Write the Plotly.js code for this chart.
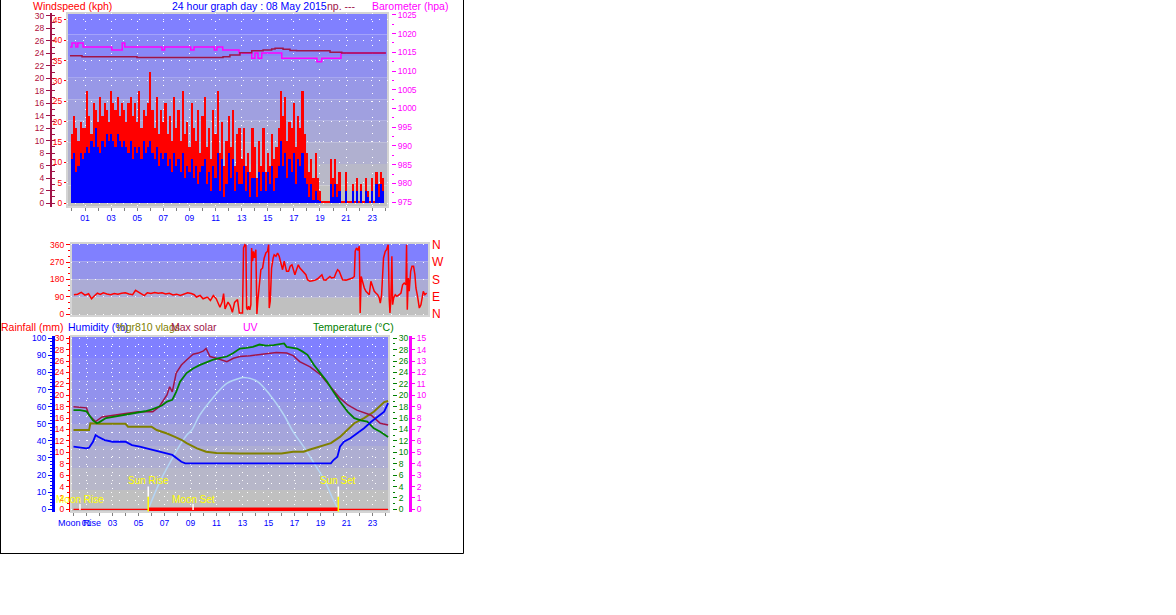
<!DOCTYPE html>
<html><head><meta charset="utf-8">
<script src="https://cdn.plot.ly/plotly-3.0.1.min.js"></script>
<style>html,body{margin:0;padding:0;background:#fff;}#chart{width:1176px;height:615px;}</style>
</head><body><div id="chart"></div>
<script>
const W = 1176, H = 615;

// ---------- Panel 1: wind speed (10-minute bars) ----------
const gustKph = [
 11,14,12,10,13,12,  12,18,14,11,16,15,  13,17,14,16,15,13,  18,16,15,17,14,16,
 15,13,16,17,14,16,  13,18,12,15,14,16,  21,15,12,17,11,15,  13,16,11,14,10,17,
 12,15,10,18,11,13,  9,16,12,10,15,8,    14,17,9,12,7,15,    11,18,8,13,6,10,
 14,9,15,6,11,12,    7,12,6,8,5,12,      9,4,10,6,12,5,      8,6,11,7,9,12,
 18,14,17,10,13,12,  16,9,14,12,18,11,   8,5,7,4,8,4,        2,0.3,0.3,0.3,0.3,7,
 4,7,3,5,0.3,0.3,    5,0.3,0.3,3,0.3,4,  0.3,3,0.3,4,2,0.3,  4,0.3,5,3,5,4];
const avgKph = [
 7,8,5,6,8,7,        8,9,8,10,9,12,      9,8,10,9,11,10,     11,10,9,11,10,9,
 10,9,8,10,7,9,      8,9,7,10,8,9,       10,8,7,9,6,8,       7,8,6,7,5,8,
 6,7,5,8,4,6,        5,7,4,6,3,5,        6,7,3,5,2,6,        4,8,2,7,1,3,
 8,4,7,2,5,3,        3,6,2,5,1,4,        4,1,5,2,5,2,        5,3,6,2,4,6,
 10,6,8,4,7,5,       8,3,7,6,8,4,        3,1,3,0.5,2,0.5,    0.3,0,0,0,0,3,
 1,3,1,2,0,0,        2,0,0,2,0,2,        0,2,0,2,1,0,        2,0,3,1,3,2];
const barHours = gustKph.map((_, i) => i / 6);

// Barometer (hPa)
const baroHours = [-0.15,0.0,0.3,0.45,0.85,3.05,3.85,4.05,6.9,7.1,9.1,9.35,10.9,11.1,11.55,12.8,13.77,14.02,14.25,14.54,16.07,18.77,19.13,20.61,24.05];
const baroHpa   = [1016.4,1017.5,1016.4,1017.5,1016.4,1015.6,1017.5,1016.4,1015.6,1016.4,1015.6,1016.4,1015.6,1016.4,1015.6,1014.8,1013.4,1014.8,1013.4,1014.8,1013.4,1012.5,1013.4,1014.8,1014.8];
const baro2Hours = [-0.15,0.77,4.98,11.57,12.1,12.87,13.77,14.64,15.3,15.56,16.17,16.7,17.2,19.77,20.67,24.05];
const baro2Hpa   = [1014.1,1013.8,1013.6,1013.8,1014.3,1014.9,1015.4,1015.6,1015.9,1016.1,1015.8,1015.5,1015.4,1015.0,1014.8,1014.8];

// ---------- Panel 2: wind direction ----------
const dirHours = [0,0.25,0.5,0.75,1.0,1.2,1.4,1.6,1.8,2.0,2.25,2.5,2.75,3.0,3.25,3.5,3.75,4.0,4.2,4.4,4.6,4.8,5.0,5.25,5.5,5.75,6.0,6.25,6.5,6.75,7.0,7.25,7.5,7.75,8.0,8.2,8.35,8.6,8.8,9.1,9.3,9.5,9.7,9.95,10.1,10.2,10.3,10.5,10.65,10.8,10.95,
 11.04,11.15,11.27,11.49,11.56,11.65,11.72,11.77,11.84,11.90,11.99,12.06,12.11,12.18,12.24,12.31,12.40,12.47,12.54,12.63,12.74,12.86,12.97,13.08,13.20,13.27,13.31,13.38,13.47,13.58,13.65,13.77,13.88,13.99,14.11,14.22,14.33,14.40,14.49,14.63,14.74,14.86,14.95,15.06,15.17,15.29,15.40,15.52,15.63,15.74,15.81,15.92,16.08,16.27,16.45,16.61,16.77,16.90,17.02,17.17,17.33,17.45,17.56,17.74,17.86,17.97,18.08,18.20,18.31,18.54,18.76,18.99,19.11,19.17,19.26,19.36,19.45,19.51,19.58,19.67,19.79,19.90,20.01,20.13,20.24,20.36,20.47,20.58,20.70,20.81,20.88,20.97,21.04,21.10,21.22,21.31,21.38,21.42,21.49,21.54,21.60,21.67,21.72,21.79,21.90,22.01,22.17,22.29,22.40,22.51,22.63,22.67,22.72,22.79,22.85,22.95,23.04,23.15,23.24,23.31,23.42,23.54,23.65,23.72,23.81,23.92,24.04];
const dirDeg = [100,103,112,98,105,79,95,108,102,110,104,100,106,103,108,110,104,100,123,112,105,96,110,106,112,108,110,104,108,99,103,96,105,110,106,100,88,96,79,88,70,96,79,35,62,106,26,62,44,9,60,
 66,75,5,5,343,360,355,31,22,40,22,48,343,274,326,291,334,0,75,152,230,239,291,317,326,360,31,66,239,291,308,300,317,300,256,230,274,248,222,222,248,256,230,204,230,256,239,230,222,213,204,178,170,173,176,183,195,204,178,176,187,195,187,190,213,230,222,195,178,176,182,187,195,326,343,330,352,5,195,161,135,118,109,100,170,144,118,109,100,83,57,100,187,291,326,334,352,360,75,5,75,300,48,83,100,92,100,109,152,161,152,360,22,187,118,222,248,248,204,135,92,31,48,83,118,100,109];
const dirLabels = ['N','E','S','W','N'];

// ---------- Panel 3 ----------
const tempHours = [0,0.5,1.0,1.2,1.5,1.8,2.0,2.5,3.0,3.5,4.0,4.5,5.0,5.5,6.0,6.4,6.8,7.2,7.6,7.9,8.2,8.7,9.2,9.7,10.2,10.7,11.2,11.8,12.3,12.8,13.3,13.8,14.3,14.8,15.4,15.8,16.2,16.4,16.8,17.2,17.6,18.0,18.5,19.0,19.5,20.0,20.5,21.1,21.6,22.1,22.6,23.1,23.6,24.2];
const tempC = [17.4,17.4,17.2,16.6,15.6,15.1,15.3,16.0,16.2,16.4,16.5,16.7,17.0,17.2,17.5,17.8,18.2,18.9,19.2,20.6,22.4,23.9,24.7,25.3,25.8,26.2,26.5,26.8,27.4,28.2,28.3,28.5,28.9,28.7,28.8,29.0,29.1,28.5,28.4,28.2,27.7,27.1,25.3,23.9,22.4,20.6,18.9,17.1,16.0,15.6,15.4,14.2,13.6,12.7];
const maxSolarHours = [0,0.5,1.0,1.2,1.7,2.2,3.0,4.0,5.0,6.1,6.6,7.2,7.4,7.6,7.9,8.3,8.7,9.2,9.6,10.0,10.2,10.5,11.0,11.8,12.3,12.8,13.6,14.6,15.6,16.4,16.9,17.4,18.2,19.0,19.8,20.5,21.1,21.8,22.9,23.6,24.2];
const maxSolarVals = [18.0,17.9,17.8,16.5,15.4,16.2,16.5,16.8,17.1,17.1,18.0,20.1,21.5,20.6,23.9,25.3,26.2,27.2,27.4,27.8,28.2,26.8,26.5,25.9,26.5,26.8,26.95,27.2,27.5,27.4,26.95,25.9,25.0,23.6,21.5,19.5,18.3,17.4,16.5,15.1,14.8];
const thgrHours = [0,1.2,1.3,2.0,3.0,4.0,4.2,5.0,6.0,6.4,7.2,7.8,8.3,8.7,9.5,10.2,11.0,12.8,14.0,16.0,16.9,17.7,18.2,19.0,19.8,20.5,20.9,21.6,22.35,23.1,23.9,24.2];
const thgrVals = [13.9,13.9,15.1,15.0,15.0,15.0,14.5,14.5,14.5,13.9,13.3,12.7,12.2,11.6,10.7,10.1,9.9,9.8,9.8,9.8,10.1,10.1,10.5,11.0,11.6,12.7,13.6,15.1,16.0,17.1,18.8,19.0];
const humHours = [0,0.5,1.0,1.2,1.5,1.7,1.9,2.4,3.0,4.0,4.5,5.1,5.6,6.1,6.6,7.2,7.6,8.3,8.6,12.0,16.0,19.8,20.0,20.3,20.5,20.8,21.3,21.8,22.35,22.9,23.4,23.9,24.2];
const humPct = [36.6,36.0,35.6,36.0,39.5,43.4,42.4,40.5,39.5,39.5,37.5,36.6,35.6,34.7,33.7,32.7,31.8,27.8,26.9,26.9,26.9,26.9,28.8,30.7,36.6,39.5,41.5,44.4,47.4,51.2,54.2,57.1,62.0];
const arcHours = [5.75,6.6,7.4,8.2,8.7,9.1,9.7,10.7,11.8,12.8,13.1,14.1,15.1,16.2,16.9,17.7,18.5,19.3,20.0,20.37];
const arcVals = [0,4.6,8.1,11.3,13.0,13.9,16.5,19.5,22.1,23.0,23.1,22.5,20.1,16.5,13.6,11.0,8.1,5.1,1.6,0];
const rainHours = [0, 24.2];
const rainMm = [0, 0];
const eventNames = ['Moon Rise','Sun Rise','Moon Set','Sun Set'];
const eventHours = [0.5, 5.75, 9.2, 20.37];
const eventIsSun = [false, true, false, true];

// ---------- helpers ----------
const fx = p => p / W;
const fy = p => 1 - p / H;
const FONT = 'Arial, "Liberation Sans", sans-serif';
const RED = '#FF0000', BLUE = '#0000FF', MAG = '#FF00FF', GREEN = '#008000', OLIVE = '#808000', MAROON = '#A01448';
const DOT = '1px,7px';

const traces = [];
traces.push({type:'bar', x:barHours, y:gustKph, width:1/6, xaxis:'x', yaxis:'y', marker:{color:RED, line:{width:0}}});
traces.push({type:'bar', x:barHours, y:avgKph, width:1/6, xaxis:'x', yaxis:'y', marker:{color:BLUE, line:{width:0}}});
traces.push({type:'scatter', mode:'lines', x:baroHours, y:baroHpa, xaxis:'x', yaxis:'y3', line:{color:MAG, width:1.5, shape:'hv'}});
traces.push({type:'scatter', mode:'lines', x:baro2Hours, y:baro2Hpa, xaxis:'x', yaxis:'y3', line:{color:MAROON, width:1.5, shape:'hv'}});

traces.push({type:'scatter', mode:'lines', x:dirHours, y:dirDeg, xaxis:'x2', yaxis:'y4', line:{color:RED, width:1.5}});

traces.push({type:'scatter', mode:'lines', x:arcHours, y:arcVals, xaxis:'x3', yaxis:'y6', line:{color:'#B4D4F4', width:1.5, shape:'spline'}});
traces.push({type:'scatter', mode:'lines', x:thgrHours, y:thgrVals, xaxis:'x3', yaxis:'y6', line:{color:OLIVE, width:2}});
traces.push({type:'scatter', mode:'lines', x:humHours, y:humPct, xaxis:'x3', yaxis:'y7', line:{color:BLUE, width:1.8}});
traces.push({type:'scatter', mode:'lines', x:maxSolarHours, y:maxSolarVals, xaxis:'x3', yaxis:'y6', line:{color:MAROON, width:1.5}});
traces.push({type:'scatter', mode:'lines', x:tempHours, y:tempC, xaxis:'x3', yaxis:'y6', line:{color:GREEN, width:1.8}});
traces.push({type:'scatter', mode:'lines', x:rainHours, y:rainMm, xaxis:'x3', yaxis:'y6', line:{color:RED, width:1.2}});
const sunIdx = eventIsSun.map((s,i)=>s?i:-1).filter(i=>i>=0);
traces.push({type:'scatter', mode:'lines', x:[eventHours[sunIdx[0]], eventHours[sunIdx[1]]], y:rainMm, xaxis:'x3', yaxis:'y6', line:{color:RED, width:3.5}});

const annotations = [];
eventNames.forEach((name, i) => {
  const h = eventHours[i];
  if (eventIsSun[i]) {
    traces.push({type:'scatter', mode:'lines', x:[h,h], y:[4.0,2.2], xaxis:'x3', yaxis:'y6', line:{color:'#FFFFFF', width:1.5}});
    traces.push({type:'scatter', mode:'lines', x:[h,h], y:[2.2,-0.4], xaxis:'x3', yaxis:'y6', line:{color:'#FFFF00', width:1.5}});
    annotations.push({text:name, x:h, y:5.0, xref:'x3', yref:'y6', showarrow:false, xanchor:'center', yanchor:'middle', font:{family:FONT, size:10, color:'#FFFF00'}});
  } else {
    traces.push({type:'scatter', mode:'lines', x:[h,h], y:[0.95,-0.1], xaxis:'x3', yaxis:'y6', line:{color:'#FFFFFF', width:1.5}});
    annotations.push({text:name, x:h, y:1.8, xref:'x3', yref:'y6', showarrow:false, xanchor:'center', yanchor:'middle', font:{family:FONT, size:10, color:'#FFFF00'}});
  }
});
annotations.push({text:eventNames[0], x:eventHours[0], y:fy(522.5), xref:'x3', yref:'paper', showarrow:false, xanchor:'center', yanchor:'middle', font:{family:FONT, size:9, color:BLUE}});

function header(text, px, py, color, size) {
  annotations.push({text, x:fx(px), y:fy(py), xref:'paper', yref:'paper', showarrow:false, xanchor:'left', yanchor:'middle', font:{family:FONT, size:size || 10.5, color}});
}
header('Windspeed (kph)', 31, 6, RED);
header('24 hour graph day : 08 May 2015', 170, 6, BLUE);
header('np. ---', 325, 6, MAROON);
header('Barometer (hpa)', 370, 6, MAG);
header('Rainfall (mm)', -1, 327, RED);
header('Humidity (%)', 66, 327, BLUE);
header('thgr810 vlags', 115, 327, OLIVE);
header('Max solar', 169, 327, MAROON);
header('UV', 241, 327, MAG);
header('Temperature (°C)', 311, 327, GREEN);

// background gradient bands and frames
const shapes = [];
function bands(xr, yr, n) {
  for (let i = 0; i < n; i++) {
    const t = i / (n - 1);
    const r = Math.round(128 + 64 * t), g = Math.round(128 + 64 * t), b = Math.round(255 - 63 * t);
    shapes.push({type:'rect', xref:xr + ' domain', yref:yr + ' domain', x0:0, x1:1, y0:1 - (i + 1) / n, y1:1 - i / n,
      fillcolor:`rgb(${r},${g},${b})`, line:{width:0}, layer:'below'});
  }
  shapes.push({type:'rect', xref:xr + ' domain', yref:yr + ' domain', x0:0, x1:1, y0:0, y1:1, line:{color:'#D4D4D4', width:2}, layer:'below'});
}
bands('x', 'y', 9);
bands('x2', 'y4', 4);
bands('x3', 'y6', 8);
[[0.5,0,0.5,553.5],[463.5,0,463.5,553.5],[0,553.5,463.5,553.5]].forEach(([a,b,c,d]) => {
  shapes.push({type:'line', xref:'paper', yref:'paper', x0:fx(a), y0:fy(b), x1:fx(c), y1:fy(d), line:{color:'#000', width:1}});
});

const tf = (color, size) => ({family:FONT, color, size: size || 8.5});
const hourAxis = (domain, range, anchor) => ({
  domain, range, anchor, tick0:1, dtick:2, tickformat:'02d', ticks:'outside', ticklen:3, tickcolor:'#808080',
  tickfont:tf(BLUE, 8.5), minor:{tick0:0, dtick:1, ticks:'outside', ticklen:3, tickcolor:'#808080', showgrid:false},
  showgrid:true, gridcolor:'#FFFFFF', griddash:DOT, gridwidth:1, zeroline:false, showline:false, fixedrange:true
});

const layout = {
  width:W, height:H, autosize:false, margin:{l:0, r:0, t:0, b:0},
  paper_bgcolor:'#FFFFFF', plot_bgcolor:'rgba(0,0,0,0)', showlegend:false, hovermode:false,
  barmode:'overlay', bargap:0, font:{family:FONT, size:8.5},
  xaxis: hourAxis([fx(67), fx(388)], [-0.38, 24.21], 'y'),
  yaxis: {domain:[fy(207), fy(13)], range:[-0.64, 30.48], anchor:'free', position:fx(51), side:'left',
    tick0:0, dtick:2, ticks:'outside', ticklen:4, tickcolor:MAROON, tickfont:tf('#B0103C'),
    minor:{dtick:1, ticks:'inside', ticklen:3, tickcolor:MAROON}, showline:true, linecolor:MAROON, linewidth:2,
    showgrid:false, zeroline:false},
  yaxis2: {overlaying:'y', anchor:'x', side:'left', range:[-0.98, 46.7], tick0:0, dtick:5, ticks:'outside', ticklen:2,
    tickcolor:RED, tickfont:tf(RED), showline:false, showgrid:true, gridcolor:'#FFFFFF', griddash:DOT, zeroline:false},
  yaxis3: {overlaying:'y', anchor:'free', position:fx(391), side:'right', range:[973.7, 1025.5], tick0:975, dtick:5,
    ticks:'outside', ticklen:4, tickcolor:MAG, tickfont:tf(MAG),
    minor:{dtick:2.5, ticks:'outside', ticklen:2, tickcolor:MAG}, showgrid:false, zeroline:false, showline:false},

  xaxis2: {domain:[fx(71), fx(429)], range:[-0.2, 24.2], anchor:'y4', showticklabels:false, ticks:'', showgrid:false, zeroline:false, showline:false},
  yaxis4: {domain:[fy(316), fy(243)], range:[-10.4, 368.8], anchor:'x2', tick0:0, dtick:90, ticks:'outside', ticklen:4,
    tickcolor:RED, tickfont:tf(RED), minor:{dtick:30, ticks:'outside', ticklen:2, tickcolor:RED},
    showgrid:true, gridcolor:'#FFFFFF', griddash:DOT, zeroline:false, showline:false},
  yaxis5: {overlaying:'y4', anchor:'free', position:fx(431), side:'right', range:[-10.4, 368.8], tickmode:'array',
    tickvals:[0,90,180,270,360], ticktext:dirLabels, ticks:'', tickfont:{family:FONT, size:12, color:RED},
    showgrid:false, zeroline:false, showline:false},

  xaxis3: hourAxis([fx(71), fx(389)], [-0.19, 24.27], 'y6'),
  yaxis6: {domain:[fy(512), fy(336)], range:[-0.47, 30.4], anchor:'free', position:fx(69), side:'left', tick0:0, dtick:2,
    ticks:'outside', ticklen:3, tickcolor:RED, tickfont:tf(RED), minor:{dtick:1, ticks:'outside', ticklen:2, tickcolor:RED},
    showline:true, linecolor:RED, linewidth:1, showgrid:false, zeroline:false},
  yaxis7: {overlaying:'y6', anchor:'free', position:fx(53), side:'left', range:[-1.57, 101.3], tick0:0, dtick:10,
    ticks:'outside', ticklen:4, tickcolor:BLUE, tickfont:tf(BLUE), minor:{dtick:2, ticks:'outside', ticklen:2, tickcolor:BLUE},
    showline:true, linecolor:BLUE, linewidth:3, showgrid:false, zeroline:false},
  yaxis8: {overlaying:'y6', anchor:'free', position:fx(392), side:'right', range:[-0.47, 30.4], tick0:0, dtick:2,
    ticks:'outside', ticklen:4, tickcolor:GREEN, tickfont:tf(GREEN), minor:{dtick:1, ticks:'outside', ticklen:2, tickcolor:GREEN},
    showline:false, showgrid:false, zeroline:false},
  yaxis9: {overlaying:'y6', anchor:'free', position:fx(410), side:'right', range:[-0.235, 15.2], tick0:0, dtick:1,
    ticks:'outside', ticklen:3, tickcolor:MAG, tickfont:tf(MAG), showline:true, linecolor:MAG, linewidth:3,
    showgrid:false, zeroline:false},
  yaxis10: {overlaying:'y6', anchor:'x3', side:'left', range:[-1.57, 101.3], tick0:0, dtick:5, showticklabels:false, ticks:'',
    showgrid:true, gridcolor:'#FFFFFF', griddash:DOT, zeroline:false, showline:false},

  shapes, annotations
};
// dummy trace to activate the humidity grid axis
traces.unshift({type:'scatter', mode:'lines', x:rainHours, y:rainMm, xaxis:'x3', yaxis:'y10', line:{width:0}, showlegend:false});
// activate label-only axes
traces.unshift({type:'scatter', mode:'lines', x:rainHours, y:rainMm, xaxis:'x3', yaxis:'y8', line:{width:0}});
traces.unshift({type:'scatter', mode:'lines', x:rainHours, y:rainMm, xaxis:'x3', yaxis:'y9', line:{width:0}});
traces.unshift({type:'scatter', mode:'lines', x:rainHours, y:rainMm, xaxis:'x2', yaxis:'y5', line:{width:0}});
traces.unshift({type:'scatter', mode:'lines', x:rainHours, y:rainMm, xaxis:'x', yaxis:'y2', line:{width:0}});

Plotly.newPlot('chart', traces, layout, {staticPlot:true, displayModeBar:false});
</script></body></html>
